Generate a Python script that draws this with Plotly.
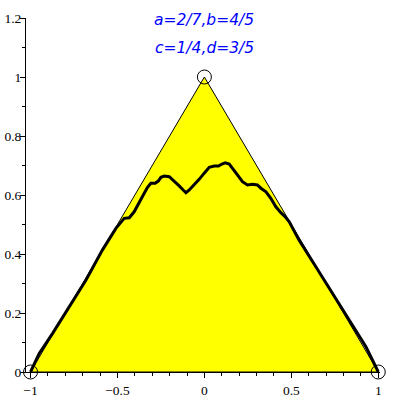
import plotly.graph_objects as go

# Triangle vertices (data coordinates)
tri_x = [-1, 0, 1, -1]
tri_y = [0, 1, 0, 0]

# Curve
curve_x = [-1.000, -0.950, -0.873, -0.777, -0.681, -0.586, -0.509, -0.461, -0.432, -0.404,
           -0.375, -0.346, -0.327, -0.308, -0.283, -0.264, -0.250, -0.231, -0.202, -0.174,
           -0.145, -0.122, -0.106, -0.087, -0.059, -0.030, -0.001, 0.028, 0.056, 0.081,
           0.101, 0.120, 0.143, 0.162, 0.190, 0.219, 0.248, 0.277, 0.305, 0.325,
           0.354, 0.382, 0.411, 0.440, 0.465, 0.488, 0.545, 0.641, 0.737, 0.833,
           0.929, 1.000]
curve_y = [0.000, 0.063, 0.131, 0.221, 0.312, 0.414, 0.487, 0.521, 0.523, 0.543,
           0.572, 0.606, 0.626, 0.640, 0.640, 0.648, 0.660, 0.664, 0.662, 0.648,
           0.631, 0.617, 0.608, 0.617, 0.634, 0.653, 0.674, 0.694, 0.698, 0.698,
           0.705, 0.709, 0.705, 0.691, 0.668, 0.645, 0.634, 0.636, 0.634, 0.623,
           0.611, 0.589, 0.560, 0.540, 0.526, 0.509, 0.447, 0.357, 0.267, 0.176,
           0.086, 0.000]

# Circle markers at vertices
pt_x = [-1, 0, 1]
pt_y = [0, 1, 0]

title_lines = ["a=2/7,b=4/5", "c=1/4,d=3/5"]
title_y = [1.193, 1.098]

x_ticks = [-1, -0.5, 0, 0.5, 1]
x_tick_text = ["\u22121", "\u22120.5", "0", "0.5", "1"]
y_ticks = [0, 0.2, 0.4, 0.6, 0.8, 1, 1.2]
y_tick_text = ["0", "0.2", "0.4", "0.6", "0.8", "1", "1.2"]

fig = go.Figure()
fig.add_trace(go.Scatter(x=tri_x, y=tri_y, mode="lines", fill="toself",
                         fillcolor="#FFFF00", line=dict(color="black", width=1),
                         hoverinfo="skip", showlegend=False))
fig.add_trace(go.Scatter(x=curve_x, y=curve_y, mode="lines",
                         line=dict(color="black", width=3),
                         showlegend=False))
fig.add_trace(go.Scatter(x=pt_x, y=pt_y, mode="markers", cliponaxis=False,
                         marker=dict(symbol="circle-open", size=14,
                                     color="black", line=dict(width=1, color="black")),
                         showlegend=False))

for txt, yy in zip(title_lines, title_y):
    fig.add_annotation(x=0, y=yy, xref="x", yref="y", text=txt, showarrow=False,
                       xanchor="center", yanchor="middle",
                       font=dict(family="DejaVu Sans", size=15.5, color="#0000FF",
                                 style="italic"))

fig.update_layout(
    template="none",
    width=400, height=400,
    margin=dict(l=26, r=20, t=18, b=28, autoexpand=False),
    paper_bgcolor="white", plot_bgcolor="white",
    showlegend=False,
)
fig.update_xaxes(range=[-1.026, 1.01], showgrid=False, zeroline=False, automargin=False,
                 showline=True, linecolor="black", linewidth=1,
                 ticks="outside", ticklen=5, tickcolor="black", tickwidth=1,
                 tickvals=x_ticks, ticktext=x_tick_text, ticklabelstandoff=1,
                 tickfont=dict(family="Liberation Serif", size=13.5, color="black"),
                 minor=dict(ticks="outside", ticklen=3, tickcolor="black", dtick=0.1, showgrid=False))
fig.update_yaxes(range=[0, 1.2], showgrid=False, zeroline=False, automargin=False,
                 showline=True, linecolor="black", linewidth=1,
                 ticks="outside", ticklen=5, tickcolor="black", tickwidth=1,
                 tickvals=y_ticks, ticktext=y_tick_text, ticklabelstandoff=-4,
                 tickfont=dict(family="Liberation Serif", size=13.5, color="black"),
                 minor=dict(ticks="outside", ticklen=3, tickcolor="black", dtick=0.1, showgrid=False))

# remove the default 8px page margin so the figure sits at the window's corner
fig.write_html("out.html", config={"displayModeBar": False},
               post_script="document.body.style.margin='0';")
